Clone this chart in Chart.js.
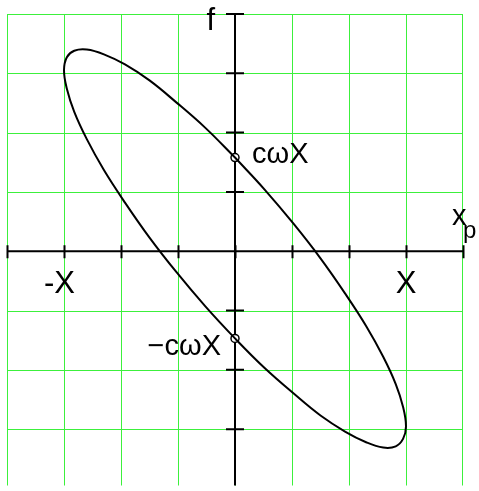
<!DOCTYPE html>
<html>
<head>
<meta charset="utf-8">
<script src="https://cdn.jsdelivr.net/npm/chart.js@4/dist/chart.umd.min.js"></script>
<style>
  html, body { margin: 0; padding: 0; background: #fff; overflow: hidden; }
  canvas { display: block; }
</style>
</head>
<body>
<canvas id="c" width="479" height="491"></canvas>
<script>
// Force–displacement loop: displacement x_p against force f (traced clockwise from the f axis)
const ellipseX = [0.00, 0.52, 1.03, 1.50, 1.93, 2.30, 2.60, 2.82, 2.95, 3.00, 2.95, 2.82, 2.60, 2.30, 1.93, 1.50, 1.03, 0.52, 0.00, -0.52, -1.03, -1.50, -1.93, -2.30, -2.60, -2.82, -2.95, -3.00, -2.95, -2.82, -2.60, -2.30, -1.93, -1.50, -1.03, -0.52, 0.00];
const ellipseF = [1.58, 1.04, 0.46, -0.12, -0.71, -1.26, -1.78, -2.24, -2.63, -2.95, -3.16, -3.29, -3.31, -3.22, -3.04, -2.77, -2.40, -1.97, -1.47, -0.93, -0.35, 0.23, 0.82, 1.37, 1.89, 2.35, 2.74, 3.05, 3.27, 3.38, 3.40, 3.32, 3.15, 2.88, 2.51, 2.08, 1.58];

// Intercepts of the loop on the force axis
const interceptLabels = ['cωX', '−cωX'];
const interceptValues = [1.58, -1.47];

// Amplitude marks on the displacement axis
const ampLabels = ['-X', 'X'];
const ampValues = [-3, 3];

const axisNames = { y: 'f', x: 'x', xSub: 'p' };

const GREEN = '#3cf03c';
const FONT = '"Liberation Sans", Arial, sans-serif';

const axesPlugin = {
  id: 'axesPlugin',
  beforeDatasetsDraw(chart) {
    const { ctx, chartArea: area, scales: { x, y } } = chart;
    const x0 = x.getPixelForValue(0), y0 = y.getPixelForValue(0);
    ctx.save();
    // 1px grid on every tick of both scales
    ctx.fillStyle = GREEN;
    x.ticks.forEach(t => {
      const px = Math.round(x.getPixelForValue(t.value));
      ctx.fillRect(Math.min(px, area.right - 1), area.top, 1, area.bottom - area.top);
    });
    y.ticks.forEach(t => {
      const py = Math.round(y.getPixelForValue(t.value));
      ctx.fillRect(area.left, py, area.right - area.left, 1);
    });
    // axes through the origin
    ctx.strokeStyle = '#000';
    ctx.lineWidth = 2;
    ctx.beginPath();
    ctx.moveTo(x.left, y0); ctx.lineTo(x.right, y0);
    ctx.moveTo(x0, y.top); ctx.lineTo(x0, y.bottom);
    // tick marks on both axes
    x.ticks.forEach(t => {
      const px = Math.round(x.getPixelForValue(t.value)) + 0.5;
      ctx.moveTo(px, y0 - 6); ctx.lineTo(px, y0 + 7);
    });
    y.ticks.forEach(t => {
      const py = y.getPixelForValue(t.value);
      ctx.moveTo(x0 - 9, py); ctx.lineTo(x0 + 9, py);
    });
    ctx.stroke();
    ctx.restore();
  },
  afterDatasetsDraw(chart) {
    const { ctx, scales: { x, y } } = chart;
    const x0 = x.getPixelForValue(0), y0 = y.getPixelForValue(0);
    ctx.save();
    ctx.fillStyle = '#000';
    ctx.textBaseline = 'alphabetic';

    ctx.font = '31px ' + FONT;
    ctx.textAlign = 'right';
    ctx.fillText(axisNames.y, x0 - 20, y.top + 16);

    ctx.font = '29px ' + FONT;
    ctx.textAlign = 'left';
    ctx.fillText(axisNames.x, x.right - 11, y0 - 26);
    ctx.font = '24px ' + FONT;
    ctx.fillText(axisNames.xSub, x.right, y0 - 13);

    ctx.font = '31px ' + FONT;
    ctx.textAlign = 'right';
    ctx.fillText(ampLabels[0], x.getPixelForValue(ampValues[0]) + 11, y0 + 42);
    ctx.textAlign = 'center';
    ctx.fillText(ampLabels[1], x.getPixelForValue(ampValues[1]), y0 + 42);

    ctx.font = '29px ' + FONT;
    ctx.textAlign = 'left';
    ctx.fillText(interceptLabels[0], x0 + 17, y.getPixelForValue(interceptValues[0]) + 5);
    ctx.textAlign = 'right';
    ctx.fillText(interceptLabels[1], x0 - 14, y.getPixelForValue(interceptValues[1]) + 17);
    ctx.restore();
  }
};

const loopPoints = ellipseX.map((v, i) => ({ x: v, y: ellipseF[i] }));
const interceptPoints = interceptValues.map(v => ({ x: 0, y: v }));

new Chart(document.getElementById('c'), {
  type: 'scatter',
  data: {
    datasets: [
      {
        data: loopPoints,
        showLine: true,
        borderColor: '#000',
        borderWidth: 2,
        pointRadius: 0,
        tension: 0.4,
        fill: false
      },
      {
        data: interceptPoints,
        pointRadius: 4,
        pointStyle: 'circle',
        backgroundColor: '#fff',
        borderColor: '#000',
        borderWidth: 1.5
      }
    ]
  },
  options: {
    responsive: false,
    animation: false,
    devicePixelRatio: 1,
    layout: { padding: { left: 7, right: 16, top: 14, bottom: 0 } },
    plugins: { legend: { display: false }, tooltip: { enabled: false } },
    scales: {
      x: {
        type: 'linear',
        min: -4, max: 4,
        ticks: { stepSize: 1, display: false },
        grid: { display: false, drawTicks: false },
        border: { display: false }
      },
      y: {
        type: 'linear',
        min: -3.95, max: 4,
        ticks: { stepSize: 1, display: false, includeBounds: false },
        grid: { display: false, drawTicks: false },
        border: { display: false }
      }
    }
  },
  plugins: [axesPlugin]
});
</script>
</body>
</html>
